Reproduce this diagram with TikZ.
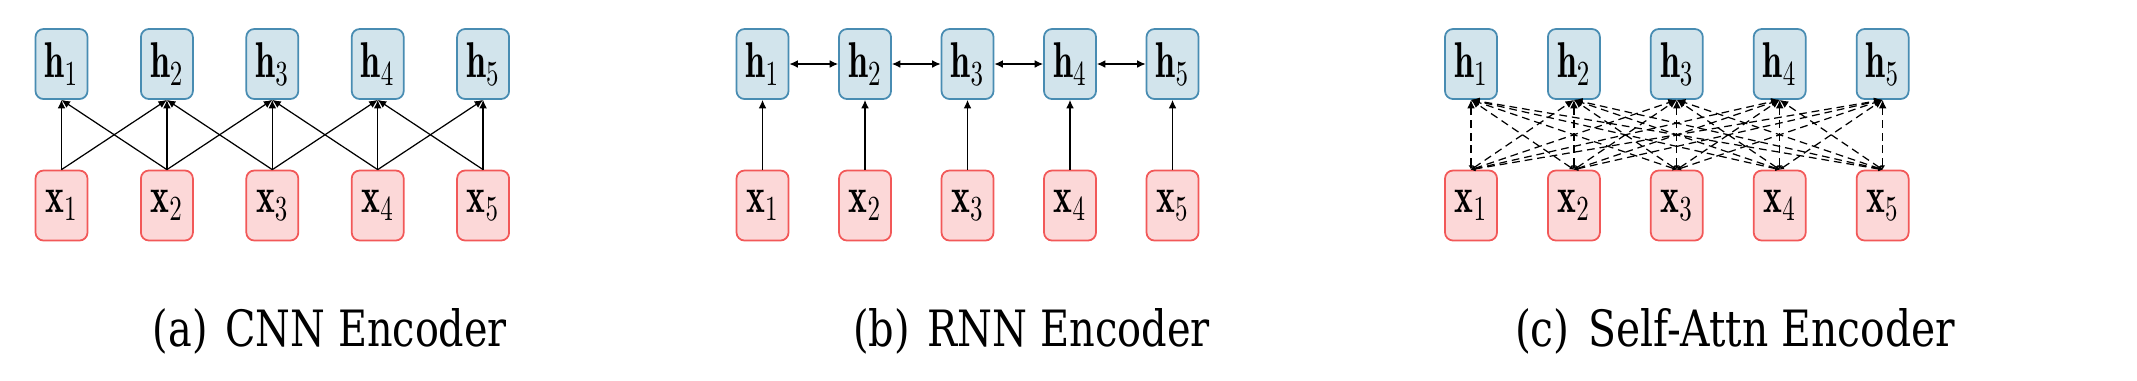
\documentclass[tikz,border=0pt]{standalone}
\usepackage{fontspec}
\usepackage{graphicx}
\usetikzlibrary{arrows.meta}
\newfontfamily\capfont{DejaVu Serif}

\definecolor{hfill}{RGB}{210,228,236}
\definecolor{hline}{RGB}{72,140,178}
\definecolor{xfill}{RGB}{252,216,216}
\definecolor{xline}{RGB}{242,88,88}

\newcommand{\narrow}[1]{\scalebox{0.71}[1]{#1}}
% caption text stretched to the width it has in the figure
\newcommand{\subcap}[3]{\resizebox{#1}{0.38cm}{(#2)\hspace{0.45em}#3}}

\tikzset{
  cell/.style={rounded corners=0.08cm, minimum width=0.52cm, minimum height=0.70cm,
               inner sep=0pt, line width=0.5pt, font=\fontsize{14.3}{16}\selectfont},
  hbox/.style={cell, draw=hline, fill=hfill},
  xbox/.style={cell, draw=xline, fill=xfill},
  link/.style={-{Latex[length=2.4pt,width=2.2pt]}, line width=0.35pt},
  twoway/.style={{Latex[length=2.4pt,width=2.2pt]}-{Latex[length=2.4pt,width=2.2pt]}, line width=0.35pt},
  attn/.style={{Latex[length=1.2pt,width=1.4pt]}-{Latex[length=2.4pt,width=2.2pt]},
               dash pattern=on 2.2pt off 1.4pt, line width=0.35pt},
  caplabel/.style={anchor=base, inner sep=0pt, font=\capfont\fontsize{13}{15}\selectfont}
}

\begin{document}
\begin{tikzpicture}

\useasboundingbox (0,0) rectangle (21.37,-3.8);

\def\hy{-0.64}   % row of hidden states
\def\xy{-2.055}  % row of inputs

% ---- (a) CNN Encoder ----
\foreach \i in {1,...,5}{
    \node[hbox] (ah\i) at ({0.615+1.054*(\i-1)},\hy) {\narrow{$\mathbf{h}_{\i}$}};
    \node[xbox] (ax\i) at ({0.615+1.054*(\i-1)},\xy) {\narrow{$\mathbf{x}_{\i}$}};
    \draw[link] (ax\i.north) -- (ah\i.south);
}
\foreach \i/\n in {1/2,2/3,3/4,4/5}{
    \draw[link] (ax\i.north) -- (ah\n.south);
    \draw[link] (ax\n.north) -- (ah\i.south);
}
\node[caplabel] (acap) at (3.30,-3.46) {\subcap{3.54cm}{a}{CNN Encoder}};

% ---- (b) RNN Encoder ----
\foreach \i in {1,...,5}{
    \node[hbox] (bh\i) at ({7.625+1.025*(\i-1)},\hy) {\narrow{$\mathbf{h}_{\i}$}};
    \node[xbox] (bx\i) at ({7.625+1.025*(\i-1)},\xy) {\narrow{$\mathbf{x}_{\i}$}};
    \draw[link] (bx\i.north) -- (bh\i.south);
}
\foreach \i/\n in {1/2,2/3,3/4,4/5}{
    \draw[twoway] (bh\i.east) -- (bh\n.west);
}
\node[caplabel] (bcap) at (10.315,-3.46) {\subcap{3.57cm}{b}{RNN Encoder}};

% ---- (c) Self-Attn Encoder ----
\foreach \i in {1,...,5}{
    \node[hbox] (ch\i) at ({14.71+1.029*(\i-1)},\hy) {\narrow{$\mathbf{h}_{\i}$}};
    \node[xbox] (cx\i) at ({14.71+1.029*(\i-1)},\xy) {\narrow{$\mathbf{x}_{\i}$}};
}
\foreach \i in {1,...,5}{
    \foreach \j in {1,...,5}{
        \draw[attn] (cx\i.north) -- (ch\j.south);
    }
}
\node[caplabel] (ccap) at (17.35,-3.46) {\subcap{4.40cm}{c}{Self-Attn Encoder}};

\end{tikzpicture}
\end{document}
